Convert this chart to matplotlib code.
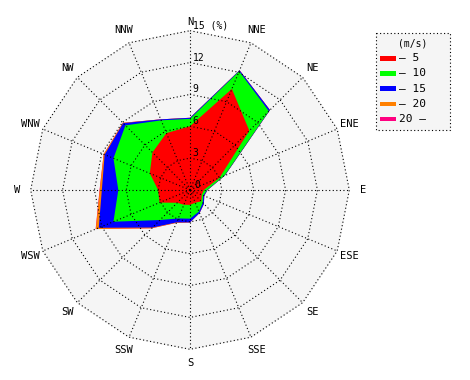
import numpy as np
import matplotlib.pyplot as plt
from matplotlib.patches import Rectangle

# wind directions, clockwise from north
directions = ['N', 'NNE', 'NE', 'ENE', 'E', 'ESE', 'SE', 'SSE',
              'S', 'SSW', 'SW', 'WSW', 'W', 'WNW', 'NW', 'NNW']

# frequency (%) of each speed class per direction
speed_0_5 = [6.0, 10.3, 7.9, 3.0, 1.3, 1.2, 1.5, 1.3, 1.4, 1.5, 1.7, 3.1, 3.0, 4.1, 5.0, 5.8]
speed_5_10 = [0.7, 1.8, 2.6, 0.5, 0.3, 0.15, 0.2, 0.9, 1.3, 1.4, 2.3, 4.7, 3.75, 3.7, 3.6, 1.3]
speed_10_15 = [0.1, 0.1, 0.15, 0.05, 0.05, 0.1, 0.15, 0.15, 0.35, 0.4, 1.0, 1.5, 1.55, 0.9, 0.3, 0.1]
speed_15_20 = [0, 0, 0, 0, 0, 0, 0, 0, 0, 0.05, 0.1, 0.3, 0.2, 0.1, 0.05, 0]
speed_20_up = [0, 0, 0, 0, 0, 0, 0, 0, 0, 0, 0, 0.02, 0.02, 0, 0, 0]

speed_labels = ['\u2013 5', '\u2013 10', '\u2013 15', '\u2013 20', '20 \u2013']
speed_colors = ['#ff0000', '#00ff00', '#0000ff', '#ff8000', '#ff0080']
ring_values = [3, 6, 9, 12, 15]
ring_labels = ['3', '6', '9', '12', '15 (%)']

plt.rcParams['font.family'] = ['DejaVu Sans Mono']
FS = 7
bg = '#f5f5f5'

fig = plt.figure(figsize=(4.7, 3.8), dpi=100)
fig.patch.set_facecolor('white')

R = 159.3
ax = fig.add_axes([(190 - R) / 470, (190 - R) / 380, 2 * R / 470, 2 * R / 380],
                  projection='polar')
ax.set_theta_zero_location('N')
ax.set_theta_direction(-1)
rmax = ring_values[-1]
ax.set_ylim(0, rmax)
ax.axis('off')

theta = np.deg2rad(np.arange(len(directions)) * 360.0 / len(directions))
theta_c = np.append(theta, theta[0])

# light background inside outer ring
ax.fill(theta, [rmax] * len(theta), color=bg, zorder=0, clip_on=False)

# stacked (cumulative) speed classes, biggest first
bins = np.array([speed_0_5, speed_5_10, speed_10_15, speed_15_20, speed_20_up])
cum = np.cumsum(bins, axis=0)
for i in range(len(bins) - 1, -1, -1):
    ax.fill(theta, cum[i], color=speed_colors[i], lw=0, zorder=1)

# dotted polygon grid
dot = (0, (1, 2.2))
for r in ring_values:
    ax.plot(theta_c, [r] * len(theta_c), color='black', lw=0.8,
            linestyle=dot, zorder=3, clip_on=False)
for t in theta:
    ax.plot([t, t], [0, rmax], color='black', lw=0.8, linestyle=dot,
            zorder=3, clip_on=False)

# radial labels along the north spoke
ax.annotate('0', xy=(0, 0), xytext=(3, 0), textcoords='offset points',
            fontsize=FS, ha='left', va='bottom', zorder=4)
for r, lab in zip(ring_values, ring_labels):
    ax.annotate(lab, xy=(0, r), xytext=(2, 0), textcoords='offset points',
                fontsize=FS, ha='left', va='bottom', zorder=4, annotation_clip=False)

# direction labels
for t, d in zip(theta, directions):
    rr = rmax * (1.055 if d == 'N' else 1.085)
    ax.text(t, rr, d, fontsize=FS + 0.5, ha='center', va='center', clip_on=False)

# legend box
lx0, ly0, lx1, ly1 = 375.7, 33.0, 450.0, 130.0
lax = fig.add_axes([lx0 / 470, 1 - ly1 / 380, (lx1 - lx0) / 470, (ly1 - ly0) / 380])
lax.set_xlim(0, lx1 - lx0)
lax.set_ylim(ly1 - ly0, 0)
lax.axis('off')
lax.add_patch(Rectangle((0, 0), lx1 - lx0, ly1 - ly0, facecolor=bg,
                        edgecolor='black', lw=0.8, linestyle=dot, clip_on=False))
lax.text((lx1 - lx0) / 2, 10.5, '(m/s)', fontsize=FS, ha='center', va='center')
for k, (lab, col) in enumerate(zip(speed_labels, speed_colors)):
    yy = 25.3 + 15.2 * k
    lax.add_patch(Rectangle((4.3, yy - 2.3), 15.7, 4.6, facecolor=col, lw=0))
    lax.text(23.5, yy, lab, fontsize=FS + 1, ha='left', va='center')

fig.savefig('out.png', dpi=100, facecolor='white')
